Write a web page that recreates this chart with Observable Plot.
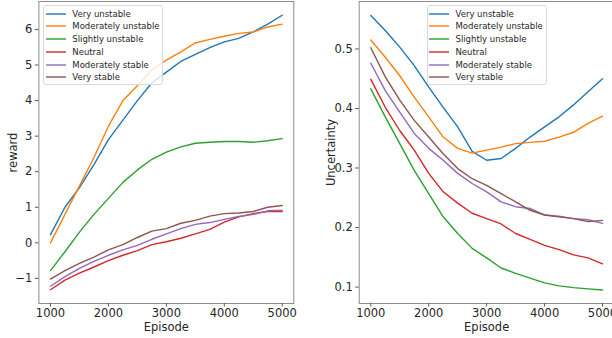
<!DOCTYPE html>
<html>
<head>
<meta charset="utf-8">
<script src="https://cdn.jsdelivr.net/npm/d3@7"></script>
<script src="https://cdn.jsdelivr.net/npm/@observablehq/plot@0.6"></script>
<style>
  html, body { margin: 0; padding: 0; background: #fff; overflow: hidden; }
  #wrap { position: relative; width: 612px; height: 338px; overflow: hidden; font-family: "DejaVu Sans", sans-serif; }
  .panel { position: absolute; top: 0; }
  .legend { position: absolute; box-sizing: border-box; width: 120px; height: 80px; border: 1px solid #d9d9d9; border-radius: 3px; background: rgba(255,255,255,0.8); }
  .legend .row { position: absolute; left: 0; height: 12px; display: flex; align-items: center; font-size: 8.5px; color: #262626; white-space: nowrap; }
  .legend svg { margin-left: 1.5px; margin-right: 6.5px; }
</style>
</head>
<body>
<div id="wrap"></div>
<script>
const seriesNames = ["Very unstable", "Moderately unstable", "Slightly unstable", "Neutral", "Moderately stable", "Very stable"];
const seriesColors = ["#1f77b4", "#ff7f0e", "#2ca02c", "#d62728", "#9467bd", "#8c564b"];
const episodes = [1000, 1250, 1500, 1750, 2000, 2250, 2500, 2750, 3000, 3250, 3500, 3750, 4000, 4250, 4500, 4750, 5000];
const xTicks = [1000, 2000, 3000, 4000, 5000];
const rewardTicks = [-1, 0, 1, 2, 3, 4, 5, 6];
const uncertaintyTicks = [0.1, 0.2, 0.3, 0.4, 0.5];

// reward (left panel)
const rewardVeryUnstable       = [0.23, 1.0, 1.55, 2.2, 2.9, 3.45, 4.0, 4.5, 4.8, 5.1, 5.3, 5.49, 5.65, 5.75, 5.93, 6.15, 6.4];
const rewardModeratelyUnstable = [0.0, 0.8, 1.6, 2.4, 3.28, 4.0, 4.42, 4.86, 5.14, 5.37, 5.62, 5.72, 5.81, 5.89, 5.93, 6.07, 6.15];
const rewardSlightlyUnstable   = [-0.78, -0.25, 0.3, 0.8, 1.25, 1.7, 2.05, 2.35, 2.55, 2.7, 2.8, 2.83, 2.85, 2.85, 2.83, 2.87, 2.93];
const rewardNeutral            = [-1.32, -1.05, -0.85, -0.68, -0.5, -0.35, -0.22, -0.05, 0.03, 0.13, 0.25, 0.38, 0.58, 0.73, 0.82, 0.88, 0.88];
const rewardModeratelyStable   = [-1.22, -0.95, -0.72, -0.52, -0.35, -0.2, -0.07, 0.1, 0.25, 0.4, 0.52, 0.57, 0.66, 0.74, 0.8, 0.9, 0.92];
const rewardVeryStable         = [-1.02, -0.78, -0.58, -0.4, -0.2, -0.05, 0.15, 0.33, 0.4, 0.55, 0.63, 0.75, 0.82, 0.84, 0.88, 1.0, 1.05];

// uncertainty (right panel)
const uncVeryUnstable       = [0.556, 0.531, 0.503, 0.472, 0.436, 0.402, 0.369, 0.328, 0.313, 0.316, 0.333, 0.352, 0.369, 0.386, 0.406, 0.428, 0.45];
const uncModeratelyUnstable = [0.515, 0.486, 0.455, 0.419, 0.386, 0.352, 0.333, 0.325, 0.33, 0.335, 0.341, 0.343, 0.345, 0.352, 0.36, 0.375, 0.387];
const uncSlightlyUnstable   = [0.433, 0.386, 0.341, 0.296, 0.257, 0.218, 0.19, 0.165, 0.149, 0.132, 0.123, 0.115, 0.107, 0.102, 0.099, 0.097, 0.095];
const uncNeutral            = [0.449, 0.402, 0.363, 0.33, 0.291, 0.26, 0.241, 0.224, 0.215, 0.206, 0.19, 0.18, 0.17, 0.163, 0.154, 0.149, 0.139];
const uncModeratelyStable   = [0.476, 0.43, 0.394, 0.358, 0.333, 0.313, 0.291, 0.274, 0.26, 0.243, 0.235, 0.232, 0.221, 0.219, 0.215, 0.213, 0.207];
const uncVeryStable         = [0.502, 0.453, 0.414, 0.38, 0.352, 0.324, 0.299, 0.282, 0.271, 0.257, 0.243, 0.229, 0.221, 0.218, 0.215, 0.21, 0.212];

const rewardSeries = [rewardVeryUnstable, rewardModeratelyUnstable, rewardSlightlyUnstable, rewardNeutral, rewardModeratelyStable, rewardVeryStable];
const uncSeries = [uncVeryUnstable, uncModeratelyUnstable, uncSlightlyUnstable, uncNeutral, uncModeratelyStable, uncVeryStable];

function toRows(arrs) {
  const rows = [];
  arrs.forEach((vals, i) => vals.forEach((v, j) => rows.push({series: seriesNames[i], episode: episodes[j], value: v})));
  return rows;
}

function panel({rows, width, marginLeft, marginRight, yDomain, yTicks, yFormat, yLabel, labelOffset}) {
  return Plot.plot({
    width, height: 338,
    marginLeft, marginRight, marginTop: 1, marginBottom: 35,
    style: {fontFamily: "DejaVu Sans, sans-serif", fontSize: "11.5px", color: "#262626", background: "transparent", overflow: "visible"},
    x: {domain: [800, 5200]},
    y: {domain: yDomain},
    color: {domain: seriesNames, range: seriesColors},
    marks: [
      Plot.line(rows, {x: "episode", y: "value", stroke: "series", strokeWidth: 1.4}),
      Plot.frame({stroke: "#8c8c8c", strokeWidth: 1}),
      Plot.axisX({ticks: xTicks, tickSize: 3.5, tickPadding: 2, stroke: "#555", tickFormat: d3.format("d"),
                  label: "Episode", labelAnchor: "center", labelArrow: "none", labelOffset: 27.5, fontSize: 11.5}),
      Plot.axisY({ticks: yTicks, tickSize: 3.5, tickPadding: 3, stroke: "#555", tickFormat: yFormat,
                  label: yLabel, labelAnchor: "center", labelArrow: "none", labelOffset: labelOffset, fontSize: 11.5})
    ]
  });
}

const wrap = document.getElementById("wrap");

const left = panel({rows: toRows(rewardSeries), width: 306, marginLeft: 38.4, marginRight: 12.7,
  yDomain: [-1.706, 6.786], yTicks: rewardTicks, yFormat: d3.format("d"), yLabel: "reward", labelOffset: 30});
left.classList.add("panel"); left.style.left = "0px";
wrap.appendChild(left);

const right = panel({rows: toRows(uncSeries), width: 320, marginLeft: 52.7, marginRight: 12.4,
  yDomain: [0.0724, 0.5797], yTicks: uncertaintyTicks, yFormat: d3.format(".1f"), yLabel: "Uncertainty", labelOffset: 32});
right.classList.add("panel"); right.style.left = "306px";
wrap.appendChild(right);

function legend(x, y) {
  const box = document.createElement("div");
  box.className = "legend";
  box.style.left = x + "px"; box.style.top = y + "px";
  seriesNames.forEach((name, i) => {
    const row = document.createElement("div");
    row.className = "row";
    row.style.top = (1.7 + i * 12.72) + "px";
    const sw = document.createElementNS("http://www.w3.org/2000/svg", "svg");
    sw.setAttribute("width", "20"); sw.setAttribute("height", "4");
    const ln = document.createElementNS("http://www.w3.org/2000/svg", "line");
    ln.setAttribute("x1", "0"); ln.setAttribute("x2", "20");
    ln.setAttribute("y1", "2"); ln.setAttribute("y2", "2");
    ln.setAttribute("stroke", seriesColors[i]); ln.setAttribute("stroke-width", "1.4");
    sw.appendChild(ln);
    const t = document.createElement("span");
    t.textContent = name;
    row.appendChild(sw); row.appendChild(t);
    box.appendChild(row);
  });
  wrap.appendChild(box);
}
legend(43.3, 5);
legend(426.5, 5);
</script>
</body>
</html>
